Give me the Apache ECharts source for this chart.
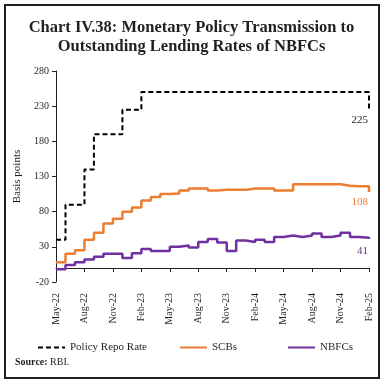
<!DOCTYPE html>
<html><head><meta charset="utf-8">
<script src="https://cdn.jsdelivr.net/npm/echarts@6/dist/echarts.min.js"></script>
<style>html,body{margin:0;padding:0;background:#fff}#c{width:383px;height:384px}</style>
</head><body><div id="c"></div>
<script>
const months = ['May-22','Jun-22','Jul-22','Aug-22','Sep-22','Oct-22','Nov-22','Dec-22','Jan-23','Feb-23','Mar-23','Apr-23',
 'May-23','Jun-23','Jul-23','Aug-23','Sep-23','Oct-23','Nov-23','Dec-23','Jan-24','Feb-24','Mar-24','Apr-24',
 'May-24','Jun-24','Jul-24','Aug-24','Sep-24','Oct-24','Nov-24','Dec-24','Jan-25','Feb-25'];
const repo = [40,90,90,140,190,190,190,225,225,250,250,250,250,250,250,250,250,250,250,250,250,250,250,250,250,250,250,250,250,250,250,250,250,225];
const scbs = [8,20,25,40,50,63,70,80,86,96,101,105,106,110,113,113,110,111,111,111,113,113,113,110,110,119,119,119,119,119,117,116,116,108];
const nbfcs = [-2,4,8,12,16,20,20,14,21,27,24,24,30,32,29,37,41,36,24,39,37,40,37,44,46,44,46,49,44,46,50,44,43,41];
const yTicks = {min:-20, max:280, interval:50};
const seriesNames = ['Policy Repo Rate','SCBs','NBFCs'];
const colors = ['#000000','#ED7D31','#7030A0'];

const serif = 'Liberation Serif';
function endLabel(color, dy){
  return {show:true, formatter:'{c}', align:'right', verticalAlign:'top', distance:0, offset:[-1, dy],
    color:color, fontFamily:serif, fontSize:11};
}
const chart = echarts.init(document.getElementById('c'));
const legendBase = {orient:'horizontal', top:337, itemWidth:27, itemHeight:8, itemGap:4,
  itemStyle:{opacity:0}, textStyle:{fontFamily:serif, fontSize:11, color:'#231f20'}};
chart.setOption({
  animation:false,
  title:{text:'Chart IV.38: Monetary Policy Transmission to\nOutstanding Lending Rates of NBFCs', left:'center', top:13,
    textStyle:{fontFamily:serif, fontWeight:'bold', fontSize:16.5, lineHeight:19, color:'#231f20'}},
  grid:{left:56, right:14, top:71, bottom:102, containLabel:false},
  legend:[
    Object.assign({}, legendBase, {data:[seriesNames[0]], left:32}),
    Object.assign({}, legendBase, {data:[seriesNames[1]], left:174}),
    Object.assign({}, legendBase, {data:[seriesNames[2]], left:282})
  ],
  xAxis:[
    {type:'category', data:months, boundaryGap:false, position:'bottom',
     axisLine:{onZero:true, lineStyle:{color:'#231f20', width:1}},
     axisTick:{show:true, interval:2, length:4, lineStyle:{color:'#231f20'}},
     axisLabel:{show:false}},
    {type:'category', data:months, boundaryGap:false, position:'bottom',
     axisLine:{show:false, onZero:false}, axisTick:{show:false},
     axisLabel:{interval:2, rotate:90, margin:11, fontFamily:serif, fontSize:10, color:'#231f20'}}
  ],
  yAxis:{type:'value', min:yTicks.min, max:yTicks.max, interval:yTicks.interval,
    name:'Basis points', nameLocation:'middle', nameGap:28, nameRotate:90,
    nameTextStyle:{fontFamily:serif, fontSize:11, color:'#231f20'},
    axisLine:{show:true, lineStyle:{color:'#231f20'}},
    axisTick:{show:true, length:4, lineStyle:{color:'#231f20'}},
    axisLabel:{fontFamily:serif, fontSize:10, color:'#231f20', margin:7},
    splitLine:{show:false}},
  series:[
    {name:seriesNames[0], type:'line', step:'end', data:repo, symbol:'none', showSymbol:false,
     lineStyle:{color:colors[0], width:2, type:[5,3]}, itemStyle:{color:colors[0]}, endLabel:endLabel('#231f20',5)},
    {name:seriesNames[1], type:'line', step:'end', data:scbs, symbol:'none', showSymbol:false,
     lineStyle:{color:colors[1], width:2.5}, itemStyle:{color:colors[1]}, endLabel:endLabel('#ED7D31',5)},
    {name:seriesNames[2], type:'line', step:'end', data:nbfcs, symbol:'none', showSymbol:false,
     lineStyle:{color:colors[2], width:2.5}, itemStyle:{color:colors[2]}, endLabel:endLabel('#5b2d86',7)}
  ],
  graphic:[
    {type:'rect', shape:{x:5, y:5, width:374, height:373}, style:{fill:null, stroke:'#231f20', lineWidth:2}, silent:true},
    {type:'text', left:15, top:357, style:{text:'{b|Source:} RBI.', rich:{b:{fontWeight:'bold', fontFamily:serif, fontSize:10}}, fontFamily:serif, fontSize:10, fill:'#231f20'}}
  ]
});
</script></body></html>
